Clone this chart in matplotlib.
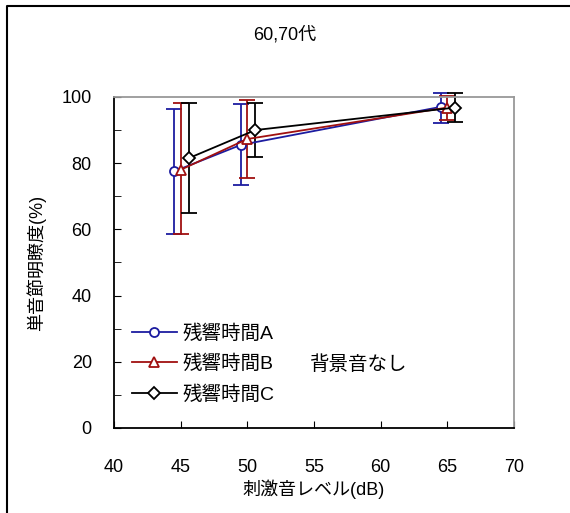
import matplotlib
matplotlib.use("Agg")
import matplotlib.pyplot as plt
from matplotlib.lines import Line2D

plt.rcParams['font.family'] = ['Liberation Sans', 'Noto Sans CJK JP']

# data
series_names = ["残響時間A", "残響時間B", "残響時間C"]
x_a = [44.5, 49.5, 64.5]
y_a = [77.5, 85.5, 97.0]
lo_a = [58.7, 73.5, 92.2]
hi_a = [96.4, 97.8, 101.1]

x_b = [45.0, 50.0, 65.0]
y_b = [78.0, 87.3, 96.8]
lo_b = [58.7, 75.4, 93.0]
hi_b = [98.3, 99.1, 100.3]

x_c = [45.6, 50.6, 65.6]
y_c = [81.5, 90.0, 96.8]
lo_c = [65.0, 82.0, 92.5]
hi_c = [98.3, 98.3, 101.1]

colors = ["#1c1ca0", "#a01010", "#000000"]
markers = ["o", "^", "D"]
msizes = [6.5, 7.5, 6]

fig = plt.figure(figsize=(5.7, 5.13), dpi=100)
ax = fig.add_axes([0.2, 0.1657, 0.7018, 0.6453])

handles = []
for xs, ys, lo, hi, c, m, ms, name in zip(
        [x_a, x_b, x_c], [y_a, y_b, y_c], [lo_a, lo_b, lo_c], [hi_a, hi_b, hi_c],
        colors, markers, msizes, series_names):
    yerr = [[y - l for y, l in zip(ys, lo)], [h - y for y, h in zip(ys, hi)]]
    ax.errorbar(xs, ys, yerr=yerr, fmt="none", ecolor=c, elinewidth=1.3,
                capsize=6, capthick=1.3, clip_on=False)
    ln, = ax.plot(xs, ys, color=c, lw=1.3, marker=m, ms=ms, mfc="white",
                  mec=c, mew=1.3, label=name, clip_on=False, zorder=3)
    handles.append(ln)

ax.set_xlim(40, 70)
ax.set_ylim(0, 100)
ax.set_xticks(range(40, 71, 5))
ax.set_yticks(range(0, 101, 20))
ax.set_yticks(range(10, 100, 20), minor=True)
ax.tick_params(axis="x", direction="in", length=5, pad=22, labelsize=13)
ax.tick_params(axis="y", direction="in", length=5, pad=16, labelsize=13)
ax.tick_params(axis="y", which="minor", direction="in", length=5)

for s in ["top", "right"]:
    ax.spines[s].set_color("#999999")
    ax.spines[s].set_linewidth(1.3)
for s in ["left", "bottom"]:
    ax.spines[s].set_color("black")
    ax.spines[s].set_linewidth(1.3)

ax.set_xlabel("刺激音レベル(dB)", fontsize=13, labelpad=3)
ax.set_ylabel("単音節明瞭度(%)", fontsize=13, labelpad=11)

leg = ax.legend(handles=handles, loc="upper left", bbox_to_anchor=(0.045, 0.313),
                frameon=False, fontsize=14, handlelength=2.3, handletextpad=0.3,
                labelspacing=0.6, borderpad=0, borderaxespad=0)
ax.text(0.49, 0.19, "背景音なし", transform=ax.transAxes, fontsize=14,
        va="center", ha="left")

fig.text(0.5, 0.932, "60,70代", fontsize=13, ha="center", va="center")

# outer frame (left and top edges visible)
fig.add_artist(Line2D([7 / 570, 7 / 570, 1.0], [0.0, 1 - 6 / 513, 1 - 6 / 513],
                      transform=fig.transFigure, color="black", lw=1.5))

fig.savefig("out.png", dpi=100)
